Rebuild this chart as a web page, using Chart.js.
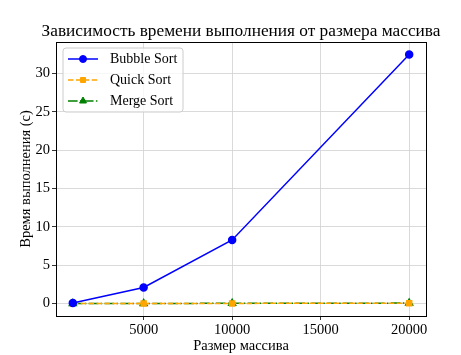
<!DOCTYPE html>
<html>
<head>
<meta charset="utf-8">
<script src="https://cdn.jsdelivr.net/npm/chart.js@4.4.1/dist/chart.umd.min.js"></script>
<style>
html,body{margin:0;padding:0;background:#fff;}
#wrap{width:461px;height:355px;}
</style>
</head>
<body>
<div id="wrap"><canvas id="c" width="461" height="355"></canvas></div>
<script>
const titleText = 'Зависимость времени выполнения от размера массива';
const xTitle = 'Размер массива';
const yTitle = 'Время выполнения (с)';
const sizes = [1000, 5000, 10000, 20000];
const bubbleTimes = [0.08, 2.1, 8.3, 32.5];
const quickTimes = [0.002, 0.01, 0.02, 0.05];
const mergeTimes = [0.003, 0.015, 0.03, 0.06];
const seriesNames = ['Bubble Sort', 'Quick Sort', 'Merge Sort'];
const xTicks = [5000, 10000, 15000, 20000];
const yTicks = [0, 5, 10, 15, 20, 25, 30];

const FONT = "'Liberation Serif', 'Times New Roman', serif";

function pts(vals){ return sizes.map((s,i)=>({x:s, y:vals[i]})); }

const allY = bubbleTimes.concat(quickTimes, mergeTimes);
const yMinD = Math.min(...allY), yMaxD = Math.max(...allY);
const xMinD = Math.min(...sizes), xMaxD = Math.max(...sizes);
const yM = (yMaxD - yMinD) * 0.05, xM = (xMaxD - xMinD) * 0.05;

const frame = {
  id: 'frame',
  afterDraw(chart){
    const {ctx, chartArea:a} = chart;
    ctx.save();
    ctx.strokeStyle = '#000';
    ctx.lineWidth = 1;
    ctx.strokeRect(Math.round(a.left)+0.5, Math.round(a.top)+0.5, Math.round(a.right-a.left), Math.round(a.bottom-a.top));
    // title
    ctx.fillStyle = '#000';
    ctx.font = '17.3px ' + FONT;
    ctx.textAlign = 'center';
    ctx.textBaseline = 'middle';
    ctx.fillText(titleText, (a.left + a.right)/2, 31);
    // legend
    const lx = 63, ly = 48, lw = 120, lh = 64, r = 3;
    ctx.beginPath();
    ctx.moveTo(lx+r, ly);
    ctx.arcTo(lx+lw, ly, lx+lw, ly+lh, r);
    ctx.arcTo(lx+lw, ly+lh, lx, ly+lh, r);
    ctx.arcTo(lx, ly+lh, lx, ly, r);
    ctx.arcTo(lx, ly, lx+lw, ly, r);
    ctx.closePath();
    ctx.fillStyle = 'rgba(255,255,255,0.8)';
    ctx.fill();
    ctx.strokeStyle = '#cccccc';
    ctx.stroke();
    chart.data.datasets.forEach((ds, i) => {
      const y = 59 + i*21;
      ctx.save();
      ctx.strokeStyle = ds.borderColor;
      ctx.lineWidth = ds.borderWidth;
      ctx.setLineDash(ds.borderDash || []);
      ctx.beginPath();
      ctx.moveTo(68, y); ctx.lineTo(98, y);
      ctx.stroke();
      ctx.restore();
      ctx.save();
      ctx.fillStyle = ds.pointBackgroundColor;
      ctx.strokeStyle = ds.pointBorderColor;
      ctx.lineWidth = 1;
      Chart.helpers.drawPoint(ctx, {pointStyle: ds.pointStyle, radius: ds.pointRadius, borderWidth: 1, rotation: 0}, 83, y);
      ctx.restore();
      ctx.fillStyle = '#000';
      ctx.font = '14px ' + FONT;
      ctx.textAlign = 'left';
      ctx.textBaseline = 'middle';
      ctx.fillText(ds.label, 110, y + 0.5);
    });
    ctx.restore();
  }
};

new Chart(document.getElementById('c'), {
  type: 'line',
  data: {
    datasets: [
      {label: seriesNames[0], data: pts(bubbleTimes), borderColor: '#0000ff', backgroundColor: '#0000ff',
       pointBackgroundColor: '#0000ff', pointBorderColor: '#0000ff', borderWidth: 1.5, pointStyle: 'circle', pointRadius: 3.5, tension: 0},
      {label: seriesNames[1], data: pts(quickTimes), borderColor: '#ffa500', backgroundColor: '#ffa500',
       pointBackgroundColor: '#ffa500', pointBorderColor: '#ffa500', borderWidth: 1.5, borderDash: [5.5, 2.4], pointStyle: 'rect', pointRadius: 3.5, tension: 0},
      {label: seriesNames[2], data: pts(mergeTimes), borderColor: '#008000', backgroundColor: '#008000',
       pointBackgroundColor: '#008000', pointBorderColor: '#008000', borderWidth: 1.5, borderDash: [9.6, 2.4, 1.5, 2.4], pointStyle: 'triangle', pointRadius: 4, tension: 0}
    ]
  },
  options: {
    responsive: false,
    animation: false,
    devicePixelRatio: 1,
    layout: {padding: {top: 42, right: 35, left: 0, bottom: 0}},
    plugins: {legend: {display: false}, title: {display: false}, tooltip: {enabled: false}},
    scales: {
      x: {
        type: 'linear', min: xMinD - xM, max: xMaxD + xM,
        afterBuildTicks: ax => { ax.ticks = xTicks.map(v => ({value: v})); },
        afterFit: ax => { ax.height = 39; },
        grid: {color: '#d0d0d0', lineWidth: 0.8, tickColor: '#000', tickLength: 4, drawTicks: true},
        border: {display: false},
        ticks: {color: '#000', font: {family: FONT, size: 14.5}, padding: 1, maxRotation: 0, autoSkip: false,
                callback: v => String(v)},
        title: {display: true, text: xTitle, color: '#000', font: {family: FONT, size: 14.5}, padding: {top: 0, bottom: 0}}
      },
      y: {
        type: 'linear', min: yMinD - yM, max: yMaxD + yM,
        afterBuildTicks: ax => { ax.ticks = yTicks.map(v => ({value: v})); },
        afterFit: ax => { ax.width = 56; },
        grid: {color: '#d0d0d0', lineWidth: 0.8, tickColor: '#000', tickLength: 4, drawTicks: true},
        border: {display: false},
        ticks: {color: '#000', font: {family: FONT, size: 14.5}, padding: 2, autoSkip: false,
                callback: v => String(v)},
        title: {display: true, text: yTitle, color: '#000', font: {family: FONT, size: 14.5}, padding: {top: 17, bottom: 0}}
      }
    }
  },
  plugins: [frame]
});
</script>
</body>
</html>
